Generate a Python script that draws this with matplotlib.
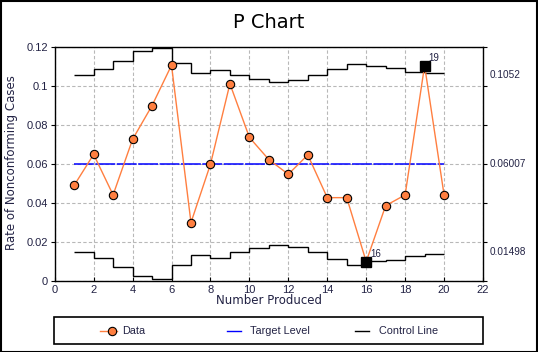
import numpy as np
import matplotlib
matplotlib.use('Agg')
import matplotlib.pyplot as plt
from matplotlib.lines import Line2D
from matplotlib.patches import Rectangle

# data
samples = list(range(1, 21))
rates = [0.0492, 0.0651, 0.0443, 0.0728, 0.0901, 0.1108, 0.0301, 0.0600, 0.1013, 0.0738,
         0.0624, 0.0549, 0.0648, 0.0429, 0.0429, 0.0101, 0.0388, 0.0443, 0.1106, 0.0443]
# stepped control limits, one per interval between samples
ucl = [0.1058, 0.1087, 0.1128, 0.1179, 0.1195, 0.1118, 0.1067, 0.1082, 0.1058, 0.1036,
       0.1021, 0.1031, 0.1056, 0.1090, 0.1116, 0.1104, 0.1094, 0.1075, 0.1067]
lcl = [0.0150, 0.0118, 0.0075, 0.0026, 0.0012, 0.0082, 0.0135, 0.0118, 0.0149, 0.0169,
       0.0185, 0.0174, 0.0150, 0.0113, 0.0082, 0.0104, 0.0109, 0.0128, 0.0138]
center = 0.06007
ucl_label, cl_label, lcl_label = '0.1052', '0.06007', '0.01498'
out_points = [16, 19]

orange = '#ff7f40'
txt = '#222244'
W, H = 538, 352

fig = plt.figure(figsize=(W / 100, H / 100), dpi=100)
ax = fig.add_axes([54.7 / W, 1 - 281.3 / H, (483 - 54.7) / W, (281.3 - 47.3) / H])

ax.set_xlim(0, 22)
ax.set_ylim(0, 0.12)
ax.set_xticks(range(0, 23, 2))
ax.set_yticks([0, 0.02, 0.04, 0.06, 0.08, 0.1, 0.12])
ax.set_yticklabels(['0', '0.02', '0.04', '0.06', '0.08', '0.1', '0.12'])
for lab in ax.get_xticklabels() + ax.get_yticklabels():
    lab.set_family('Liberation Sans')
    lab.set_fontsize(8)
    lab.set_color(txt)
ax.tick_params(axis='x', direction='in', length=3, pad=3)
ax.tick_params(axis='y', direction='out', length=3, pad=2, right=True)
for s in ax.spines.values():
    s.set_linewidth(1)

ax.grid(True, color='#b8b8b8', linestyle=(0, (3, 2)), linewidth=0.8)
ax.set_axisbelow(True)

edges = np.arange(1, 21)
ax.stairs(ucl, edges, baseline=None, color='black', linewidth=1.0, zorder=3)
ax.stairs(lcl, edges, baseline=None, color='black', linewidth=1.0, zorder=3)
ax.hlines(center, 1, 20, color='#0000ff', linewidth=1.1, linestyle=(0, (13, 1)), zorder=3)

ax.plot(samples, rates, color=orange, linewidth=1, marker='o', markersize=6,
        markerfacecolor=orange, markeredgecolor='black', markeredgewidth=0.8, zorder=4)
for p in out_points:
    ax.plot(p, rates[p - 1], marker='s', markersize=7, color='black', zorder=5)
    ax.annotate(str(p), (p, rates[p - 1]), xytext=(3, 3), textcoords='offset points',
                fontsize=7, family='Liberation Sans', color=txt, zorder=6)

# right-side limit labels
for val, lab in [(ucl[0], ucl_label), (center, cl_label), (lcl[0], lcl_label)]:
    ax.annotate(lab, (1, val), xycoords=('axes fraction', 'data'), xytext=(5, 0),
                textcoords='offset points', va='center', fontsize=7.2,
                family='Liberation Sans', color=txt)

fig.text(269 / W, 1 - 23 / H, 'P Chart', ha='center', va='center', fontsize=14,
         family='DejaVu Sans', color='black')
fig.text(269 / W, 1 - 301 / H, 'Number Produced', ha='center', va='center',
         fontsize=8.5, family='DejaVu Sans', color=txt)
fig.text(12 / W, 1 - 163 / H, 'Rate of Nonconforming Cases', ha='center', va='center',
         rotation=90, fontsize=8.5, family='DejaVu Sans', color=txt)

# legend box drawn by hand
fig.patches.append(Rectangle((54.5 / W, 1 - 344.3 / H), (483 - 54.5) / W, 27.6 / H,
                             transform=fig.transFigure, fill=False, edgecolor='black',
                             linewidth=1.2))
ly = 1 - 330.5 / H
fig.add_artist(Line2D([100 / W, 117 / W], [ly, ly], color=orange, linewidth=1))
fig.add_artist(Line2D([112 / W], [ly], marker='o', markersize=6, markerfacecolor=orange,
                      markeredgecolor='black', markeredgewidth=0.8))
fig.add_artist(Line2D([227 / W, 241 / W], [ly, ly], color='#0000ff', linewidth=1))
fig.add_artist(Line2D([355 / W, 369 / W], [ly, ly], color='black', linewidth=1))
for x, s in [(122, 'Data'), (250, 'Target Level'), (379, 'Control Line')]:
    fig.text(x / W, ly, s, ha='left', va='center', fontsize=7.8,
             family='Liberation Sans', color=txt)

# outer frame
fig.patches.append(Rectangle((0.5 / W, 0.5 / H), 1 - 1.5 / W, 1 - 1.5 / H,
                             transform=fig.transFigure, fill=False, edgecolor='black',
                             linewidth=1.5))

fig.savefig('out.png', dpi=100)
